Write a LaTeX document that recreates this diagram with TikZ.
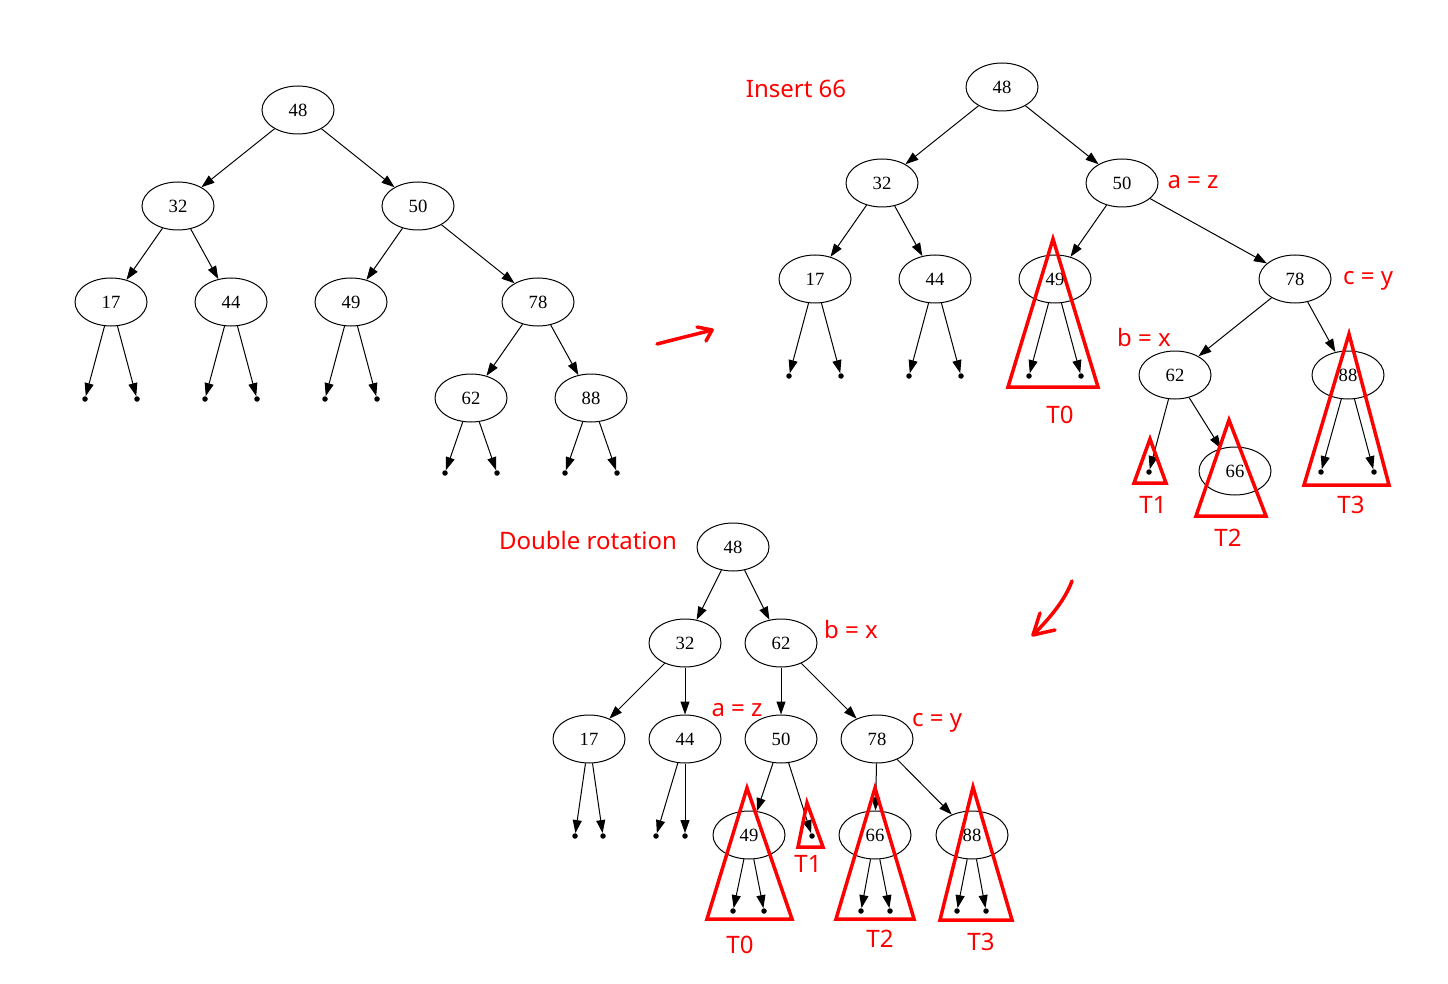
\documentclass[tikz,border=0pt]{standalone}
\usepackage{fontspec}
\setmainfont{Liberation Serif}
\newfontfamily\labfont{Noto Sans}
\usetikzlibrary{shapes.geometric,arrows.meta}
\begin{document}
\begin{tikzpicture}[x=1pt,y=-1pt,
  tn/.style={ellipse,draw,line width=1pt,minimum width=72pt,minimum height=48pt,inner sep=0pt,font=\fontsize{18.67}{22}\selectfont},
  lf/.style={circle,fill,inner sep=0pt,minimum size=5.5pt},
  ed/.style={-{Triangle[length=13pt,width=9pt]},line width=1pt},
  tri/.style={draw=red,line width=3.5pt,line join=miter},
  lbl/.style={text=red,anchor=base,inner sep=0pt,font=\labfont\fontsize{24}{28}\selectfont},
  rs/.style={draw=red,line width=3.5pt,line cap=round,line join=round}]
\useasboundingbox (0,0) rectangle (1448,984);
% ---------- tree 1 ----------
\node[tn] (a48) at (298,110) {48};
\node[tn] (a32) at (178,206) {32};
\node[tn] (a50) at (418,206) {50};
\node[tn] (a17) at (111,302) {17};
\node[tn] (a44) at (231,302) {44};
\node[tn] (a49) at (351,302) {49};
\node[tn] (a78) at (538,302) {78};
\node[tn] (a62) at (471,398) {62};
\node[tn] (a88) at (591,398) {88};
\node[lf] (a17l) at (85,399) {};
\node[lf] (a17r) at (137,399) {};
\node[lf] (a44l) at (205,399) {};
\node[lf] (a44r) at (257,399) {};
\node[lf] (a49l) at (325,399) {};
\node[lf] (a49r) at (377,399) {};
\node[lf] (a62l) at (445,473) {};
\node[lf] (a62r) at (497,473) {};
\node[lf] (a88l) at (565,473) {};
\node[lf] (a88r) at (617,473) {};
\foreach \p/\c in {a48/a32,a48/a50,a32/a17,a32/a44,a50/a49,a50/a78,a78/a62,a78/a88,
  a17/a17l,a17/a17r,a44/a44l,a44/a44r,a49/a49l,a49/a49r,a62/a62l,a62/a62r,a88/a88l,a88/a88r}
  \draw[ed] (\p) -- (\c);
% ---------- tree 2 ----------
\node[tn] (b48) at (1002,87) {48};
\node[tn] (b32) at (882,183) {32};
\node[tn] (b50) at (1122,183) {50};
\node[tn] (b17) at (815,279) {17};
\node[tn] (b44) at (935,279) {44};
\node[tn] (b49) at (1055,279) {49};
\node[tn] (b78) at (1295,279) {78};
\node[tn] (b62) at (1175,375) {62};
\node[tn] (b88) at (1348,375) {88};
\node[tn] (b66) at (1235,471) {66};
\node[lf] (b17l) at (789,376) {};
\node[lf] (b17r) at (841,376) {};
\node[lf] (b44l) at (909,376) {};
\node[lf] (b44r) at (961,376) {};
\node[lf] (b49l) at (1029,376) {};
\node[lf] (b49r) at (1081,376) {};
\node[lf] (b62l) at (1149,472) {};
\node[lf] (b88l) at (1321,472) {};
\node[lf] (b88r) at (1374,472) {};
\foreach \p/\c in {b48/b32,b48/b50,b32/b17,b32/b44,b50/b49,b50/b78,b78/b62,b78/b88,b62/b66,
  b17/b17l,b17/b17r,b44/b44l,b44/b44r,b49/b49l,b49/b49r,b62/b62l,b88/b88l,b88/b88r}
  \draw[ed] (\p) -- (\c);
\draw[tri] (1053,239) -- (1008,387) -- (1098,387) -- cycle;
\draw[tri] (1150,439) -- (1134,483) -- (1166,483) -- cycle;
\draw[tri] (1229,420) -- (1196,516) -- (1266,516) -- cycle;
\draw[tri] (1349,334) -- (1304,485) -- (1389,485) -- cycle;
\node[lbl] (l1) at (796,98) {Insert 66};
\node[lbl] (l2) at (1193,189) {a = z};
\node[lbl] (l3) at (1368,284) {c = y};
\node[lbl] (l4) at (1144,346) {b = x};
\node[lbl] (l5) at (1060,423) {T0};
\node[lbl] (l6) at (1153,513) {T1};
\node[lbl] (l7) at (1228,546) {T2};
\node[lbl] (l8) at (1351,513) {T3};
% ---------- tree 3 ----------
\node[tn] (c48) at (733,547) {48};
\node[tn] (c32) at (685,643) {32};
\node[tn] (c62) at (781,643) {62};
\node[tn] (c17) at (589,739) {17};
\node[tn] (c44) at (685,739) {44};
\node[tn] (c50) at (781,739) {50};
\node[tn] (c78) at (877,739) {78};
\node[tn] (c49) at (749,835) {49};
\node[tn] (c66) at (875,835) {66};
\node[tn] (c88) at (972,835) {88};
\node[lf] (c17l) at (575,836) {};
\node[lf] (c17r) at (603,836) {};
\node[lf] (c44l) at (656,836) {};
\node[lf] (c44r) at (685,836) {};
\node[lf] (c50r) at (812,836) {};
\node[lf] (c49l) at (733,911) {};
\node[lf] (c49r) at (764,911) {};
\node[lf] (c66l) at (861,911) {};
\node[lf] (c66r) at (890,911) {};
\node[lf] (c88l) at (957,911) {};
\node[lf] (c88r) at (986,911) {};
\foreach \p/\c in {c48/c32,c48/c62,c32/c17,c32/c44,c62/c50,c62/c78,c50/c49,c78/c66,c78/c88,
  c17/c17l,c17/c17r,c44/c44l,c44/c44r,c50/c50r,c49/c49l,c49/c49r,c66/c66l,c66/c66r,c88/c88l,c88/c88r}
  \draw[ed] (\p) -- (\c);
\draw[tri] (747,788) -- (707,919) -- (792,919) -- cycle;
\draw[tri] (807,803) -- (798,847) -- (823,847) -- cycle;
\draw[tri] (875,788) -- (836,919) -- (914,919) -- cycle;
\draw[tri] (973,787) -- (940,920) -- (1012,920) -- cycle;
\node[lbl] (m1) at (588,549) {Double rotation};
\node[lbl] (m2) at (851,638) {b = x};
\node[lbl] (m3) at (737,716) {a = z};
\node[lbl] (m4) at (937,726) {c = y};
\node[lbl] (m5) at (740,953) {T0};
\node[lbl] (m6) at (808,872) {T1};
\node[lbl] (m7) at (880,947) {T2};
\node[lbl] (m8) at (981,950) {T3};
% ---------- red hand arrows ----------
\coordinate (r1s) at (657,344);
\coordinate (r1t) at (712,330);
\draw[rs] (r1s) .. controls (680,338) and (697,334) .. (r1t);
\draw[rs] (697,327) -- (r1t) -- (706,341);
\coordinate (r2s) at (1072,581);
\coordinate (r2t) at (1033,635);
\draw[rs] (r2s) .. controls (1065,600) and (1050,618) .. (r2t);
\draw[rs] (1040,613) -- (r2t) -- (1055,630);
\end{tikzpicture}
\end{document}
